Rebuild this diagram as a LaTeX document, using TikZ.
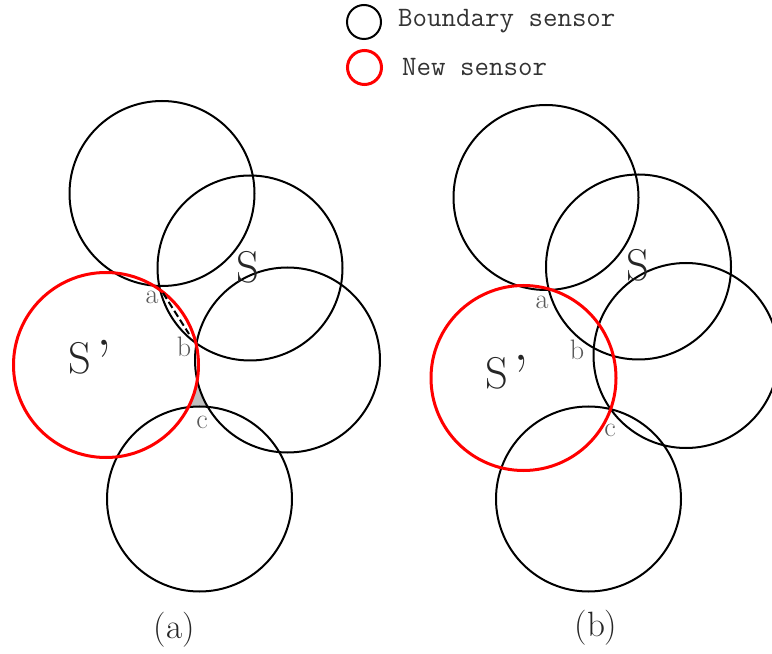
\documentclass[tikz,border=0pt]{standalone}
\tikzset{
	boundary/.style = {draw = black, line width = 0.6mm},
	newsensor/.style = {draw = red, line width = 0.9mm},
	gapline/.style = {black, line width = 0.6mm, dash pattern = on 6pt off 3pt},
	pointlabel/.style = {text = black!65, font = \fontsize{24}{26}\selectfont, inner sep = 0pt},
	sensorlabel/.style = {text = black!85, font = \fontsize{38}{40}\selectfont, inner sep = 0pt},
	caption/.style = {text = black!85, font = \fontsize{30}{32}\selectfont, inner sep = 0pt},
	legendtext/.style = {text = black!80, font = \ttfamily\fontsize{24}{26}\selectfont, anchor = west, inner sep = 0pt}
}
\newcommand{\bigquote}{\hspace{0.12em}\raisebox{-0.22em}{\scalebox{1.4}{’}}}
\begin{document}
\begin{tikzpicture} [x = 0.3mm, y = -0.3mm]
	\useasboundingbox (0,0) rectangle (772,654);
	% legend
	\draw [boundary] (364,22) circle (17);
	\draw [newsensor] (364.5,67.5) circle (17);
	\node [legendtext] (legBoundary) at (398,21) {Boundary sensor};
	\node [legendtext] (legNew) at (402,67) {New sensor};
	% (a): uncovered gap near c
	\begin{scope}
		\clip (185,368) rectangle (215,412);
		\fill [black!25] (185,368) rectangle (215,412);
		\fill [white] (106,365) circle (92.5) (287.5,360) circle (92.5) (199.5,499) circle (92.5);
	\end{scope}
	% (a)
	\draw [boundary] (162,193.5) circle (92.5);
	\draw [boundary] (250,268) circle (92.5);
	\draw [boundary] (287.5,360) circle (92.5);
	\draw [boundary] (199.5,499) circle (92.5);
	\draw [newsensor] (106,365) circle (92.5);
	\coordinate (gapA) at (163,293);
	\coordinate (gapB) at (189,334);
	\draw [gapline] (gapA) -- (gapB);
	\node [sensorlabel] (Sa) at (248,267) {S};
	\node [sensorlabel] (SPa) at (90,362) {S\bigquote};
	\node [pointlabel] (aa) at (152,297) {a};
	\node [pointlabel] (ba) at (184,347) {b};
	\node [pointlabel] (ca) at (202,422) {c};
	\node [caption] (capA) at (174.5,630) {(a)};
	% (b)
	\draw [boundary] (546,197.5) circle (92.5);
	\draw [boundary] (638.5,267) circle (92.5);
	\draw [boundary] (686,355.5) circle (92.5);
	\draw [boundary] (588.5,499) circle (92.5);
	\draw [newsensor] (523.5,378) circle (92.5);
	\node [sensorlabel] (Sb) at (638,265) {S};
	\node [sensorlabel] (SPb) at (507,377) {S\bigquote};
	\node [pointlabel] (ab) at (542,302) {a};
	\node [pointlabel] (bb) at (577,350) {b};
	\node [pointlabel] (cb) at (610,430) {c};
	\node [caption] (capB) at (596,628) {(b)};
\end{tikzpicture}
\end{document}
